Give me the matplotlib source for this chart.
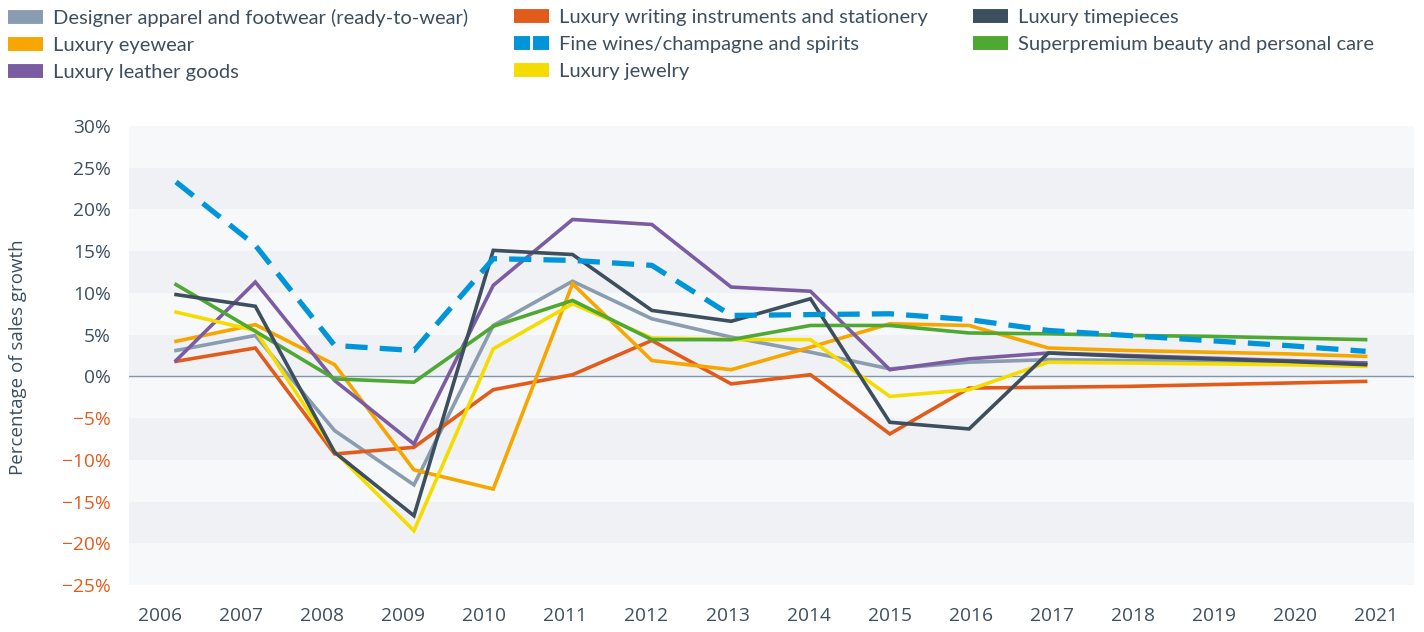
import numpy as np
import matplotlib
matplotlib.use("Agg")
import matplotlib.pyplot as plt
from matplotlib.lines import Line2D

years = list(range(2006, 2022))

series_names = [
    "Designer apparel and footwear (ready-to-wear)",
    "Luxury eyewear",
    "Luxury leather goods",
    "Luxury writing instruments and stationery",
    "Fine wines/champagne and spirits",
    "Luxury jewelry",
    "Luxury timepieces",
    "Superpremium beauty and personal care",
]

apparel = [3.1, 4.9, -6.5, -13.0, 6.1, 11.4, 6.9, 4.7, 2.9, 0.9, 1.7, 2.0, 1.9, 1.8, 1.7, 1.6]
eyewear = [4.2, 6.2, 1.4, -11.2, -13.5, 11.1, 1.9, 0.8, 3.5, 6.3, 6.1, 3.4, 3.1, 2.9, 2.7, 2.4]
leather = [1.9, 11.3, -0.5, -8.1, 10.9, 18.8, 18.2, 10.7, 10.2, 0.8, 2.1, 2.8, 2.5, 2.2, 1.9, 1.6]
writing = [1.8, 3.4, -9.3, -8.5, -1.6, 0.2, 4.3, -0.9, 0.2, -6.9, -1.4, -1.3, -1.2, -1.0, -0.8, -0.6]
wines = [23.3, 15.7, 3.7, 3.1, 14.1, 13.9, 13.3, 7.3, 7.4, 7.5, 6.8, 5.5, 4.9, 4.3, 3.7, 3.0]
jewelry = [7.7, 5.5, -9.0, -18.5, 3.3, 8.7, 4.6, 4.4, 4.4, -2.4, -1.6, 1.7, 1.6, 1.5, 1.4, 1.2]
timepieces = [9.8, 8.4, -9.1, -16.7, 15.1, 14.6, 7.9, 6.6, 9.3, -5.5, -6.3, 2.8, 2.4, 2.1, 1.8, 1.4]
beauty = [11.0, 5.4, -0.3, -0.7, 6.0, 9.1, 4.4, 4.4, 6.1, 6.1, 5.2, 5.1, 4.9, 4.8, 4.6, 4.4]

y_ticks = [30, 25, 20, 15, 10, 5, 0, -5, -10, -15, -20, -25]
x_labels = [str(y) for y in years]

colors = {
    "apparel": "#8a9caf",
    "eyewear": "#f7a600",
    "leather": "#7b5ca3",
    "writing": "#e35b1b",
    "wines": "#0095d9",
    "jewelry": "#f5dc00",
    "timepieces": "#3d4f5d",
    "beauty": "#4ea832",
}
TEXT = "#3d4f5e"
NEG = "#e35b1b"

W, H = 1424, 632
fig = plt.figure(figsize=(W / 100, H / 100), dpi=100)
ax = fig.add_axes([129 / W, 1 - 585 / H, (1414 - 129) / W, (585 - 126) / H])

# background bands
band_dark = "#eff1f5"
band_light = "#f7f8fa"
edges = sorted(y_ticks)
for i in range(len(edges) - 1):
    lo, hi = edges[i], edges[i + 1]
    c = band_light if i % 2 == 0 else band_dark
    ax.axhspan(lo, hi, color=c, lw=0, zorder=0)
ax.axhline(0, color="#8096ad", lw=1.0, zorder=1)

lw = 2.6
order = [
    ("apparel", apparel), ("writing", writing), ("eyewear", eyewear),
    ("leather", leather), ("jewelry", jewelry), ("beauty", beauty),
    ("timepieces", timepieces),
]
for key, vals in order:
    ax.plot(years, vals, color=colors[key], lw=lw, solid_joinstyle="miter", zorder=3)
ax.plot(years, wines, color=colors["wines"], lw=3.8, dashes=(4.2, 2.3),
        dash_capstyle="butt", zorder=4)

ax.set_ylim(-25, 30)
ax.set_xlim(2005.407, 2021.61)
ax.set_yticks(y_ticks)
ax.set_yticklabels([f"{t}%" if t >= 0 else f"\u2212{abs(t)}%" for t in y_ticks])
tick_pos = 2005.80 + np.arange(len(years)) * 1.022
ax.set_xticks(tick_pos)
ax.set_xticklabels(x_labels)
for lab, t in zip(ax.get_yticklabels(), y_ticks):
    lab.set_color(TEXT if t >= 0 else NEG)
for lab in ax.get_xticklabels():
    lab.set_color(TEXT)
ax.tick_params(axis="both", length=0, labelsize=13.8)
ax.tick_params(axis="y", pad=13)
ax.tick_params(axis="x", pad=16)
for lab in ax.get_xticklabels() + ax.get_yticklabels():
    lab.set_fontfamily(["Open Sans", "DejaVu Sans"])
for s in ax.spines.values():
    s.set_visible(False)

fig.text(18 / W, 1 - 357 / H, "Percentage of sales growth", rotation=90,
         ha="center", va="center", fontsize=13.5, color=TEXT,
         family=["Open Sans", "DejaVu Sans"])

# legend
keys = ["apparel", "eyewear", "leather", "writing", "wines", "jewelry", "timepieces", "beauty"]
handles = []
for k in keys:
    if k == "wines":
        h = Line2D([0], [0], color=colors[k], lw=10, dashes=(1.15, 0.22), dash_capstyle="butt")
    else:
        h = Line2D([0], [0], color=colors[k], lw=10, solid_capstyle="butt")
    handles.append(h)

col_x = [8, 514, 973]
groups = [(0, 3), (3, 6), (6, 8)]
for cx, (a, b) in zip(col_x, groups):
    leg = fig.legend(handles[a:b], series_names[a:b], loc="upper left",
                     bbox_to_anchor=(cx / W, 1 - 9 / H), frameon=False,
                     borderpad=0, borderaxespad=0, handlelength=1.75,
                     handletextpad=0.5, labelspacing=0.5,
                     prop={"family": ["Lato", "DejaVu Sans"], "size": 14.5})
    for t in leg.get_texts():
        t.set_color(TEXT)

fig.savefig("out.png", dpi=100)
